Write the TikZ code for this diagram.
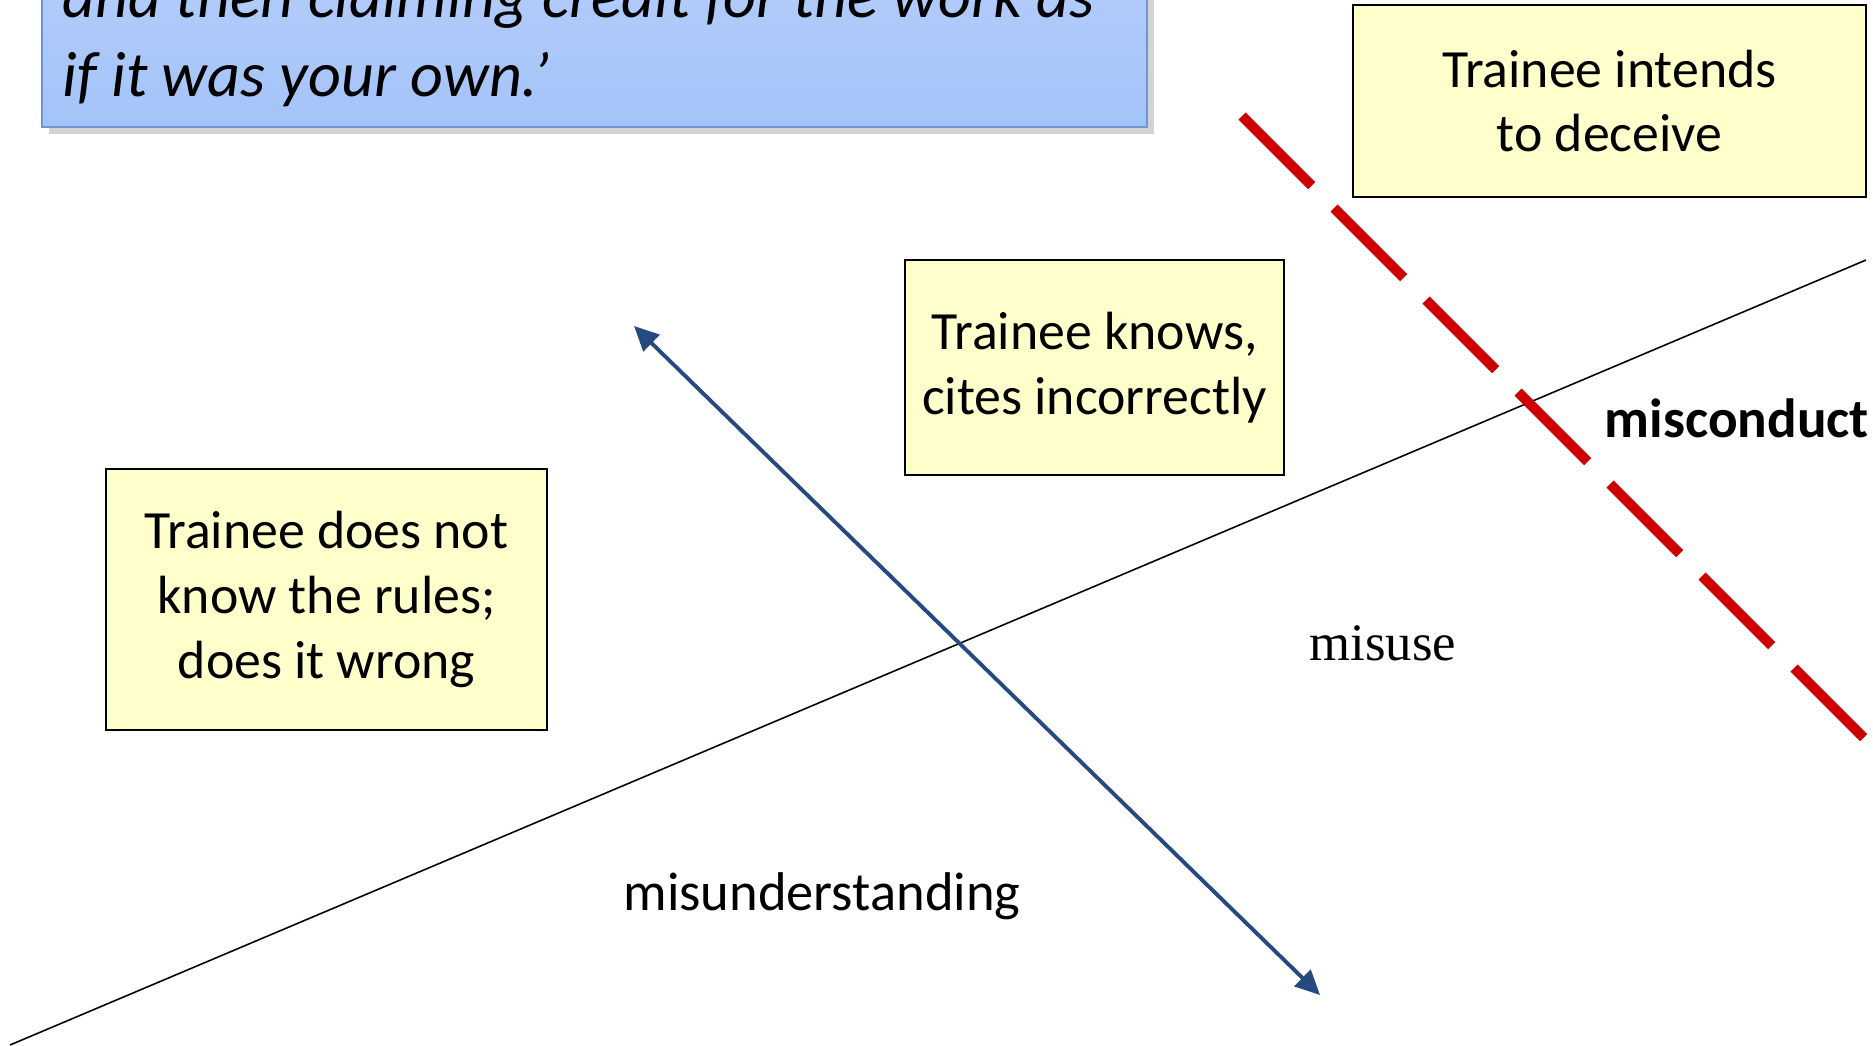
\documentclass[tikz,border=0pt]{standalone}
\usepackage{fontspec}
\setmainfont{Carlito}
\newfontfamily\romanpart{Liberation Serif}
\usetikzlibrary{arrows.meta,shadows}

\definecolor{notefill}{RGB}{255,255,204}
\definecolor{quotetop}{RGB}{205,222,255}
\definecolor{quotebottom}{RGB}{164,195,248}
\definecolor{quoteline}{RGB}{110,150,210}
\definecolor{axisblue}{RGB}{36,74,128}
\definecolor{cutred}{RGB}{204,0,0}

\begin{document}
\begin{tikzpicture}[x=0.01cm,y=-0.01cm,
    casebox/.style={draw=black, line width=0.6pt, fill=notefill, align=center,
        inner sep=0pt, font=\fontsize{15.3}{18.4}\selectfont},
    zonelabel/.style={font=\fontsize{15.5}{18.4}\selectfont, inner sep=0pt}]
    \useasboundingbox (0,0) rectangle (1873,1045);
    \clip (0,0) rectangle (1873,1045);

    % quotation box, cut off at the top
    \fill[top color=quotetop, bottom color=quotebottom, draw=quoteline, line width=0.6pt,
        drop shadow={shadow xshift=2pt, shadow yshift=-2pt, opacity=0.35}]
        (42,-300) rectangle (1147,127);
    \node (quote) [anchor=base west, align=left, inner sep=0pt,
        font=\itshape\fontsize{18.2}{22.2}\selectfont] at (62,96)
        {and then claiming credit for the work as\\if it was your own.’};

    % dividing line
    \coordinate (base-w) at (10,1045);
    \coordinate (base-e) at (1866,260);
    \draw[line width=0.45pt] (base-w) -- (base-e);

    % scale of intent
    \coordinate (scale-lo) at (1320,995);
    \coordinate (scale-hi) at (634,326);
    \draw[axisblue, line width=1.1pt, {Triangle[length=7pt,width=6.5pt]}-{Triangle[length=7pt,width=6.5pt]}]
        (scale-hi) -- (scale-lo);

    % misconduct threshold
    \coordinate (cut-top) at (1242,116);
    \coordinate (cut-end) at (1880,754);
    \draw[cutred, line width=2.9pt, dash pattern=on 28pt off 9pt] (cut-top) -- (cut-end);

    \node (deceive) [casebox, minimum width=5.13cm, minimum height=1.92cm] at (1609.5,101)
        {Trainee intends\\ to deceive};
    \node (knows) [casebox, minimum width=3.79cm, minimum height=2.15cm] at (1094.5,367.5)
        {Trainee knows,\\cites incorrectly};
    \node (unaware) [casebox, minimum width=4.41cm, minimum height=2.61cm] at (326.5,599.5)
        {Trainee does not\\know the rules;\\ does it wrong};

    \node (misconduct) [zonelabel, anchor=west, font=\bfseries\fontsize{15.7}{18.4}\selectfont] at (1604,418) {misconduct};
    \node (misuse) [zonelabel, font=\romanpart\fontsize{15}{18}\selectfont] at (1383,643) {misuse};
    \node (misunderstanding) [zonelabel] at (822,896) {misunderstanding};
\end{tikzpicture}
\end{document}
